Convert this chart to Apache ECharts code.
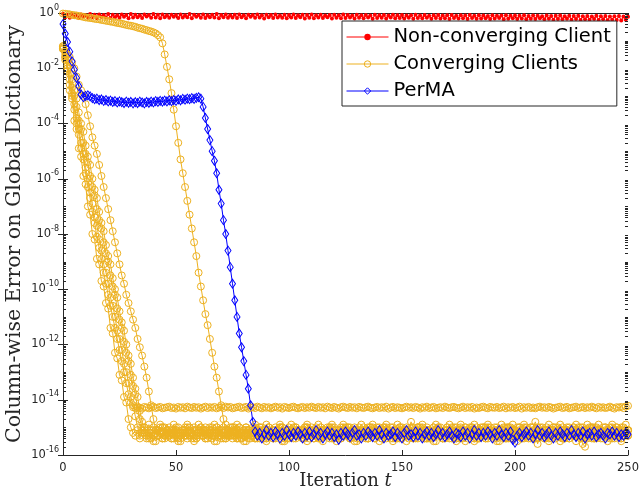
<!DOCTYPE html>
<html>
<head>
<meta charset="utf-8">
<script src="https://cdn.jsdelivr.net/npm/echarts/dist/echarts.min.js"></script>
<style>html,body{margin:0;padding:0;background:#fff}#chart{width:640px;height:499px}</style>
</head>
<body>
<div id="chart"></div>
<script>
// All values are log10 of the column-wise error; index = iteration t (0..250).
const seriesNames = ['Non-converging Client', 'Converging Clients', 'PerMA'];
const xTickValues = [0, 50, 100, 150, 200, 250];

const nonConvergingClientLog10 = [
-0.03,-0.15,-0.06,-0.17,-0.04,-0.14,-0.07,-0.18,-0.05,-0.13,-0.08,-0.17,-0.04,-0.15,-0.06,-0.19,-0.05,-0.14,-0.07,-0.16,-0.04,-0.18,-0.06,-0.15,-0.08,
-0.17,-0.05,-0.14,-0.07,-0.19,-0.04,-0.16,-0.06,-0.15,-0.08,-0.18,-0.05,-0.13,-0.07,-0.17,-0.04,-0.16,-0.06,-0.19,-0.05,-0.15,-0.08,-0.17,-0.06,-0.14,
-0.07,-0.18,-0.05,-0.16,-0.08,-0.15,-0.04,-0.19,-0.06,-0.14,-0.07,-0.17,-0.05,-0.18,-0.08,-0.15,-0.06,-0.16,-0.04,-0.19,-0.07,-0.15,-0.05,-0.17,-0.08,
-0.16,-0.06,-0.18,-0.05,-0.15,-0.08,-0.19,-0.06,-0.14,-0.07,-0.17,-0.05,-0.16,-0.08,-0.20,-0.06,-0.15,-0.07,-0.18,-0.05,-0.16,-0.09,-0.17,-0.06,-0.19,
-0.07,-0.16,-0.05,-0.18,-0.08,-0.15,-0.06,-0.20,-0.07,-0.17,-0.05,-0.19,-0.08,-0.16,-0.06,-0.18,-0.09,-0.15,-0.07,-0.20,-0.06,-0.17,-0.08,-0.19,-0.05,
-0.18,-0.07,-0.16,-0.09,-0.20,-0.06,-0.17,-0.08,-0.19,-0.07,-0.16,-0.09,-0.21,-0.06,-0.18,-0.08,-0.17,-0.07,-0.20,-0.09,-0.16,-0.06,-0.19,-0.08,-0.18,
-0.07,-0.20,-0.09,-0.17,-0.08,-0.21,-0.06,-0.18,-0.09,-0.19,-0.07,-0.17,-0.10,-0.21,-0.08,-0.18,-0.07,-0.20,-0.09,-0.19,-0.08,-0.22,-0.07,-0.18,-0.10,
-0.20,-0.08,-0.19,-0.09,-0.22,-0.07,-0.18,-0.10,-0.21,-0.08,-0.20,-0.09,-0.19,-0.11,-0.22,-0.08,-0.20,-0.10,-0.18,-0.09,-0.23,-0.08,-0.21,-0.10,-0.19,
-0.09,-0.22,-0.10,-0.20,-0.08,-0.23,-0.11,-0.21,-0.09,-0.22,-0.10,-0.19,-0.12,-0.23,-0.09,-0.21,-0.11,-0.24,-0.10,-0.22,-0.09,-0.23,-0.12,-0.21,-0.10,
-0.24,-0.11,-0.22,-0.10,-0.25,-0.12,-0.23,-0.11,-0.24,-0.13,-0.22,-0.10,-0.25,-0.12,-0.23,-0.11,-0.26,-0.13,-0.24,-0.12,-0.25,-0.11,-0.27,-0.13,-0.24,
-0.14
];

// slow converging client
const convergingClientSLog10 = [
-0.02,-0.03,-0.04,-0.05,-0.07,-0.08,-0.09,-0.11,-0.12,-0.14,
-0.16,-0.17,-0.18,-0.19,-0.21,-0.22,-0.23,-0.25,-0.26,-0.28,
-0.29,-0.31,-0.32,-0.34,-0.36,-0.37,-0.39,-0.41,-0.43,-0.45,
-0.46,-0.48,-0.50,-0.53,-0.55,-0.57,-0.60,-0.62,-0.65,-0.67,
-0.70,-0.74,-0.80,-0.88,-1.10,-1.50,-1.95,-2.40,-2.90,-3.50,
-4.10,-4.70,-5.30,-5.80,-6.30,-6.80,-7.30,-7.80,-8.30,-8.80,
-9.40,-9.90,-10.40,-10.90,-11.30,-11.80,-12.30,-12.80,-13.20,-13.70,
-14.20,-14.70,-15.10,
-15.2,-15.3,-15.1,-15.2,-15.4,-15.0,-15.2,-15.3,-15.1,-15.2,-15.4,-15.3,-15.1,-15.2,-15.0,-15.3,-15.2,-15.4,-15.1,-15.2,
-15.3,-15.1,-15.2,-15.0,-15.3,-15.4,-15.2,-15.1,-15.3,-15.2,-15.0,-15.2,-15.3,-15.1,-15.4,-15.2,-15.3,-15.1,-15.2,-15.0,
-15.2,-15.4,-15.1,-15.3,-15.2,-15.0,-15.3,-15.1,-15.2,-15.4,-15.3,-15.1,-15.2,-15.3,-15.0,-15.2,-15.1,-15.4,-15.2,-15.3,
-15.1,-15.2,-15.0,-15.3,-15.2,-15.4,-15.1,-15.2,-15.3,-15.1,-15.0,-15.2,-15.4,-15.3,-15.1,-15.2,-15.3,-15.0,-15.2,-15.1,
-15.3,-15.2,-15.4,-15.1,-15.2,-15.0,-15.3,-15.2,-15.1,-15.4,-15.2,-15.3,-15.1,-15.0,-15.2,-15.3,-15.4,-15.1,-15.2,-15.3,
-15.0,-15.2,-15.1,-15.3,-15.4,-15.2,-15.1,-15.0,-15.3,-15.2,-15.4,-15.1,-15.2,-15.3,-15.0,-15.2,-15.1,-15.3,-15.2,-15.4,
-15.1,-15.3,-15.2,-15.0,-15.2,-15.4,-15.1,-15.3,-15.2,-15.1,-15.3,-15.0,-15.2,-15.4,-15.3,-15.1,-15.2,-15.0,-15.3,-15.2,
-15.4,-15.1,-15.2,-15.3,-15.1,-15.0,-15.2,-15.3,-15.4,-15.2,-15.1,-15.3,-15.2,-15.0,-15.1,-15.3,-15.2,-15.4,-15.1,-15.2,
-15.3,-15.0,-15.2,-15.1,-15.3,-15.4,-15.2,-15.1,-15.3,-15.2,-15.0,-15.2,-15.3,-15.1,-15.4,-15.2,-15.3,-15.1
];

const convergingClientALog10 = [
-1.2,-1.6,-2.1,-2.8,-3.1,-3.9,-4.2,-4.9,-5.2,-5.9,-6.2,-7.0,-7.3,-8.0,-8.2,-8.9,-9.1,-9.7,-9.9,-10.5,-10.7,-11.4,-11.6,-12.3,-12.5,-13.1,-13.3,-13.9,-14.1,-14.7,-15.0,
-15.2,-15.3,-15.1,-15.4,-15.2,-15.0,-15.3,-15.2,-15.4,-15.1,-15.2,-15.3,-15.0,-15.2,-15.4,-15.3,-15.1,-15.2,-15.3,-15.1,
-15.4,-15.2,-15.1,-15.3,-15.2,-15.0,-15.2,-15.4,-15.3,-15.1,-15.2,-15.3,-15.1,-15.4,-15.2,-15.0,-15.3,-15.2,-15.1,-15.3,
-15.2,-15.4,-15.1,-15.2,-15.3,-15.0,-15.2,-15.1,-15.4,-15.3,-15.2,-15.1,-15.3,-15.2,-15.4,-15.1,-15.0,-15.2,-15.3,-15.2,
-15.1,-15.3,-15.4,-15.2,-15.1,-15.3,-15.0,-15.2,-15.3,-15.4,-15.1,-15.2,-15.3,-15.1,-15.2,-15.4,-15.3,-15.0,-15.2,-15.1,
-15.3,-15.2,-15.4,-15.1,-15.2,-15.3,-15.1,-15.0,-15.2,-15.4,-15.3,-15.2,-15.1,-15.3,-15.2,-15.0,-15.4,-15.2,-15.3,-15.1,
-15.2,-15.1,-15.3,-15.4,-15.2,-15.0,-15.3,-15.1,-15.2,-15.3,-15.4,-15.1,-15.2,-15.3,-15.0,-15.2,-15.1,-15.4,-15.3,-15.2,
-15.1,-15.2,-15.4,-15.3,-15.1,-15.2,-15.0,-15.3,-15.2,-15.1,-15.4,-15.2,-15.3,-15.1,-15.2,-15.0,-15.3,-15.4,-15.2,-15.1,
-15.3,-15.1,-15.2,-15.4,-15.2,-15.3,-15.1,-15.0,-15.2,-15.3,-15.1,-15.4,-15.2,-15.3,-15.1,-15.2,-15.4,-15.0,-15.2,-15.3,
-15.1,-15.2,-15.3,-15.1,-15.4,-15.2,-15.0,-15.3,-15.2,-15.1,-15.3,-15.2,-15.4,-15.1,-15.2,-15.3,-15.0,-15.2,-15.4,-15.1,
-15.2,-15.3,-15.1,-15.2,-15.4,-15.3,-15.1,-15.2,-15.0,-15.3,-15.2,-15.4,-15.1,-15.3,-15.2,-15.1,-15.3,-15.2,-15.4,-15.2,
-15.1,-15.3,-15.2,-15.0,-15.4,-15.2,-15.3,-15.1,-15.2,-15.3,-15.1,-15.2,-15.4,-15.3,-15.1,-15.2,-15.0,-15.3,-15.2,-15.1
];

// client settling on the upper floor (~10^-14.3)
const convergingClientBLog10 = [
-1.3,-1.7,-2.0,-2.6,-3.0,-3.5,-4.0,-4.4,-4.9,-5.3,-5.8,-6.3,-6.7,-7.2,-7.6,-8.1,-8.5,-8.9,-9.4,-9.8,-10.2,-10.6,-11.0,-11.4,-11.8,-12.2,-12.6,-13.0,-13.4,-13.8,-14.1,
-14.27,-14.30,-14.25,-14.29,-14.32,-14.26,-14.28,-14.31,-14.27,-14.25,-14.30,-14.28,-14.26,-14.31,-14.29,-14.27,-14.25,-14.30,-14.28,-14.32,
-14.26,-14.29,-14.27,-14.31,-14.25,-14.28,-14.30,-14.26,-14.29,-14.27,-14.32,-14.28,-14.25,-14.30,-14.27,-14.29,-14.26,-14.31,-14.28,-14.27,
-14.30,-14.25,-14.28,-14.26,-14.31,-14.29,-14.27,-14.25,-14.30,-14.28,-14.26,-14.32,-14.29,-14.27,-14.30,-14.25,-14.28,-14.31,-14.26,-14.29,
-14.27,-14.31,-14.28,-14.25,-14.29,-14.27,-14.32,-14.26,-14.28,-14.30,-14.27,-14.25,-14.29,-14.31,-14.28,-14.26,-14.30,-14.27,-14.29,-14.25,
-14.28,-14.30,-14.26,-14.29,-14.27,-14.31,-14.25,-14.28,-14.30,-14.26,-14.29,-14.32,-14.27,-14.25,-14.28,-14.30,-14.26,-14.29,-14.27,-14.31,
-14.26,-14.28,-14.30,-14.27,-14.25,-14.29,-14.31,-14.28,-14.26,-14.30,-14.27,-14.29,-14.25,-14.32,-14.28,-14.26,-14.30,-14.27,-14.29,-14.31,
-14.28,-14.25,-14.29,-14.27,-14.30,-14.26,-14.28,-14.32,-14.27,-14.29,-14.25,-14.30,-14.28,-14.26,-14.31,-14.29,-14.27,-14.30,-14.25,-14.28,
-14.30,-14.27,-14.26,-14.29,-14.31,-14.28,-14.25,-14.30,-14.27,-14.29,-14.26,-14.32,-14.28,-14.30,-14.27,-14.25,-14.29,-14.31,-14.26,-14.28,
-14.29,-14.26,-14.30,-14.28,-14.25,-14.31,-14.27,-14.29,-14.26,-14.30,-14.28,-14.25,-14.32,-14.27,-14.29,-14.26,-14.30,-14.28,-14.31,-14.27,
-14.25,-14.29,-14.27,-14.30,-14.26,-14.28,-14.32,-14.29,-14.27,-14.25,-14.30,-14.28,-14.26,-14.31,-14.29,-14.27,-14.25,-14.30,-14.28,-14.26,
-14.30,-14.27,-14.29,-14.25,-14.28,-14.31,-14.26,-14.29,-14.27,-14.30,-14.28,-14.25,-14.29,-14.32,-14.27,-14.28,-14.26,-14.30,-14.24,-14.22
];

const convergingClientCLog10 = [
-1.25,-1.6,-2.0,-2.4,-2.9,-3.3,-3.8,-4.2,-4.7,-5.1,-5.6,-6.0,-6.5,-6.9,-7.4,-7.7,-8.2,-8.6,-9.1,-9.4,-9.8,-10.3,-10.6,-11.0,-11.5,-11.8,-12.2,-12.7,-13.0,-13.4,-13.9,-14.2,-14.6,-15.0,
-15.3,-15.1,-15.2,-15.4,-15.3,-15.2,-15.5,-15.1,-15.3,-15.2,-15.4,-15.0,-15.2,-15.3,-15.1,-15.4,-15.2,-15.3,-15.5,-15.2,
-15.1,-15.3,-15.2,-15.4,-15.1,-15.3,-15.2,-15.0,-15.3,-15.4,-15.2,-15.1,-15.3,-15.5,-15.2,-15.3,-15.1,-15.2,-15.4,-15.3,
-15.2,-15.0,-15.3,-15.1,-15.4,-15.2,-15.3,-15.5,-15.1,-15.2,-15.3,-15.4,-15.2,-15.1,-15.3,-15.2,-15.4,-15.0,-15.3,-15.2,
-15.4,-15.1,-15.2,-15.3,-15.5,-15.2,-15.1,-15.3,-15.2,-15.4,-15.3,-15.1,-15.2,-15.0,-15.3,-15.4,-15.2,-15.3,-15.1,-15.2,
-15.3,-15.5,-15.2,-15.1,-15.3,-15.4,-15.2,-15.3,-15.1,-15.2,-15.0,-15.3,-15.2,-15.4,-15.1,-15.3,-15.5,-15.2,-15.3,-15.1,
-15.2,-15.4,-15.3,-15.1,-15.2,-15.3,-15.0,-15.4,-15.2,-15.3,-15.1,-15.2,-15.5,-15.3,-15.2,-15.1,-15.4,-15.2,-15.3,-15.1,
-15.3,-15.2,-15.4,-15.0,-15.2,-15.3,-15.1,-15.4,-15.3,-15.2,-15.5,-15.1,-15.3,-15.2,-15.4,-15.2,-15.1,-15.3,-15.0,-15.2,
-15.4,-15.3,-15.1,-15.2,-15.5,-15.3,-15.2,-15.1,-15.4,-15.2,-15.3,-15.0,-15.2,-15.4,-15.3,-15.1,-15.2,-15.3,-15.5,-15.2,
-15.1,-15.3,-15.2,-15.4,-15.2,-15.1,-15.3,-15.2,-15.0,-15.4,-15.3,-15.2,-15.1,-15.3,-15.4,-15.2,-15.6,-15.3,-15.1,-15.2,
-15.3,-15.1,-15.4,-15.2,-15.3,-15.2,-15.5,-15.1,-15.3,-15.2,-15.4,-15.3,-15.1,-15.2,-15.0,-15.3,-15.2,-15.4,-15.1,-15.3,
-15.2,-15.4,-15.3,-15.1,-15.2,-15.3,-15.0,-15.2,-15.4,-15.3,-15.1,-15.2,-15.3,-15.5,-15.2,-15.1,-15.3
];

const convergingClientDLog10 = [
-1.3,-1.5,-1.9,-2.2,-2.7,-3.0,-3.4,-3.9,-4.2,-4.7,-5.1,-5.4,-5.9,-6.3,-6.6,-7.1,-7.5,-7.8,-8.3,-8.7,-9.0,-9.5,-9.9,-10.2,-10.7,-11.1,-11.4,-11.9,-12.3,-12.6,-13.1,-13.5,-13.8,-14.3,-14.7,-15.0,
-15.0,-15.2,-14.9,-15.1,-15.0,-15.2,-15.1,-14.9,-15.0,-15.3,-15.1,-15.0,-15.2,-14.9,-15.1,-15.0,-15.2,-15.1,-15.0,-14.9,
-15.1,-15.2,-15.0,-15.1,-14.9,-15.0,-15.2,-15.1,-15.3,-15.0,-15.1,-14.9,-15.0,-15.2,-15.1,-15.0,-14.9,-15.1,-15.2,-15.0,
-15.1,-14.9,-15.0,-15.2,-15.1,-15.0,-15.1,-15.3,-15.0,-14.9,-15.1,-15.2,-15.0,-15.1,-14.9,-15.0,-15.2,-15.1,-15.0,-15.1,
-14.9,-15.0,-15.2,-15.1,-15.0,-14.9,-15.1,-15.0,-15.2,-15.3,-15.1,-15.0,-14.9,-15.1,-15.0,-15.2,-15.1,-14.9,-15.0,-15.1,
-15.2,-15.0,-15.1,-14.9,-15.0,-15.1,-15.2,-15.0,-14.9,-15.1,-15.0,-15.2,-15.1,-15.0,-15.3,-15.1,-14.9,-15.0,-15.2,-15.1,
-15.0,-14.9,-15.1,-15.0,-15.2,-15.1,-15.0,-14.9,-15.1,-15.2,-15.0,-15.1,-14.9,-15.0,-15.2,-15.1,-15.0,-15.1,-14.8,-15.0,
-15.1,-15.0,-15.2,-14.9,-15.1,-15.0,-15.1,-15.2,-15.0,-14.9,-15.1,-15.0,-15.2,-15.1,-15.0,-14.9,-15.1,-15.2,-15.0,-15.1,
-14.9,-15.1,-15.0,-15.2,-15.1,-15.0,-14.9,-15.0,-15.1,-15.3,-15.0,-15.1,-14.9,-15.0,-15.2,-15.1,-15.0,-15.1,-14.9,-15.0,
-15.2,-15.1,-15.0,-14.9,-15.1,-15.0,-15.2,-15.1,-14.9,-15.0,-15.1,-15.2,-15.0,-14.8,-15.1,-15.0,-15.2,-15.1,-15.0,-14.9,
-15.1,-15.0,-15.2,-15.1,-14.9,-15.0,-15.1,-15.0,-15.2,-15.1,-15.0,-14.9,-15.1,-15.2,-15.0,-15.1,-14.9,-15.0,-15.2,-15.1,
-15.0,-14.9,-15.1,-15.0,-15.2,-15.1,-15.0,-14.9,-15.1,-15.0,-15.2,-15.1,-15.0,-14.9,-15.1
];

const convergingClientELog10 = [
-1.2,-1.4,-1.7,-1.9,-2.4,-2.8,-3.1,-3.6,-4.0,-4.3,-4.8,-5.2,-5.5,-6.0,-6.4,-6.7,-7.2,-7.6,-7.9,-8.4,-8.8,-9.1,-9.6,-10.0,-10.3,-10.8,-11.2,-11.5,-12.0,-12.4,-12.7,-13.2,-13.6,-13.9,-14.4,-14.8,-15.1,
-15.3,-15.4,-15.2,-15.3,-15.5,-15.3,-15.2,-15.4,-15.3,-15.1,-15.3,-15.4,-15.2,-15.3,-15.5,-15.4,-15.2,-15.3,-15.4,-15.2,
-15.3,-15.5,-15.4,-15.2,-15.3,-15.1,-15.4,-15.3,-15.2,-15.4,-15.3,-15.5,-15.2,-15.3,-15.4,-15.3,-15.1,-15.3,-15.4,-15.2,
-15.4,-15.3,-15.2,-15.5,-15.3,-15.4,-15.2,-15.3,-15.1,-15.4,-15.3,-15.2,-15.4,-15.5,-15.3,-15.2,-15.4,-15.3,-15.2,-15.3,
-15.5,-15.3,-15.4,-15.2,-15.3,-15.4,-15.1,-15.3,-15.2,-15.4,-15.3,-15.5,-15.3,-15.2,-15.4,-15.3,-15.2,-15.4,-15.3,-15.1,
-15.3,-15.4,-15.2,-15.3,-15.5,-15.2,-15.4,-15.3,-15.2,-15.3,-15.4,-15.2,-15.5,-15.3,-15.4,-15.2,-15.3,-15.1,-15.4,-15.3,
-15.2,-15.4,-15.3,-15.5,-15.2,-15.3,-15.4,-15.3,-15.2,-15.4,-15.1,-15.3,-15.4,-15.2,-15.3,-15.5,-15.3,-15.2,-15.4,-15.3,
-15.4,-15.2,-15.3,-15.4,-15.3,-15.1,-15.4,-15.3,-15.5,-15.2,-15.3,-15.4,-15.2,-15.3,-15.4,-15.3,-15.2,-15.5,-15.3,-15.4,
-15.2,-15.3,-15.4,-15.2,-15.3,-15.5,-15.3,-15.4,-15.2,-15.3,-15.1,-15.4,-15.3,-15.2,-15.4,-15.3,-15.5,-15.2,-15.3,-15.4,
-15.3,-15.2,-15.4,-15.3,-15.5,-15.3,-15.2,-15.4,-15.3,-15.2,-15.4,-15.3,-15.2,-15.4,-15.3,-15.2,-15.4,-15.3,-15.5,-15.2,
-15.3,-15.4,-15.3,-15.2,-15.4,-15.1,-15.3,-15.4,-15.2,-15.3,-15.5,-15.3,-15.4,-15.6,-15.7,-15.4,-15.3,-15.2,-15.3,-15.4,
-15.3,-15.2,-15.4,-15.3,-15.5,-15.3,-15.2,-15.4,-15.3,-15.2,-15.4,-15.3,-15.2,-15.3
];

const convergingClientFLog10 = [
-1.3,-1.4,-1.5,-1.6,-1.8,-2.0,-2.3,-2.6,-2.8,-3.0,-3.3,-3.7,-4.1,-4.5,-4.8,-5.1,-5.5,-5.9,-6.3,-6.7,-7.1,-7.5,-7.9,-8.3,-8.7,-9.1,-9.5,-9.8,-10.2,-10.5,-10.8,-11.1,-11.4,-11.8,-12.1,-12.4,-12.8,-13.2,-13.7,-14.2,-14.7,-15.1,
-15.1,-15.2,-15.0,-15.3,-15.1,-15.2,-15.4,-15.1,-15.0,-15.2,-15.3,-15.1,-15.2,-15.0,-15.3,-15.2,-15.1,-15.4,-15.2,-15.1,
-15.3,-15.0,-15.2,-15.1,-15.3,-15.2,-15.0,-15.1,-15.4,-15.2,-15.1,-15.3,-15.0,-15.2,-15.1,-15.3,-15.2,-15.4,-15.1,-15.0,
-15.2,-15.3,-15.1,-15.0,-15.2,-15.4,-15.1,-15.2,-15.3,-15.0,-15.2,-15.1,-15.3,-15.2,-15.0,-15.1,-15.4,-15.2,-15.1,-15.3,
-15.0,-15.2,-15.1,-15.3,-15.2,-15.1,-15.0,-15.3,-15.2,-15.4,-15.1,-15.2,-15.0,-15.1,-15.3,-15.2,-15.1,-15.0,-15.2,-15.3,
-15.1,-15.4,-15.2,-15.0,-15.1,-15.3,-15.2,-15.1,-15.2,-15.0,-15.3,-15.1,-15.2,-15.4,-15.1,-15.0,-15.2,-15.3,-15.1,-15.2,
-15.0,-15.1,-15.3,-15.2,-15.1,-15.4,-15.2,-15.0,-15.1,-15.3,-15.2,-15.1,-15.0,-15.2,-15.3,-15.1,-15.2,-15.0,-15.4,-15.1,
-15.2,-15.3,-15.0,-15.1,-15.2,-15.1,-15.3,-15.2,-15.0,-15.1,-15.4,-15.2,-15.1,-15.3,-15.0,-15.2,-15.1,-15.2,-15.3,-15.0,
-15.1,-15.2,-15.4,-15.1,-15.0,-15.2,-15.3,-15.1,-15.2,-15.0,-15.1,-15.3,-15.2,-15.1,-15.4,-15.0,-15.2,-15.1,-15.3,-15.2,
-15.0,-15.1,-15.2,-15.3,-15.1,-15.0,-15.2,-15.1,-15.4,-15.2,-15.0,-15.3,-15.1,-15.2,-15.1,-15.0,-15.3,-15.2,-15.1,-15.2,
-15.4,-15.1,-15.0,-15.2,-15.3,-15.1,-15.2,-15.0,-15.1,-15.3,-15.2,-15.1,-15.4,-15.0,-15.2,-15.1,-15.3,-15.2,-15.0,-15.1,
-15.2,-15.3,-15.1,-15.0,-15.2,-15.1,-15.3,-15.2,-15.1
];

const perMALog10 = [
-0.40,-0.75,-1.05,-1.40,-1.75,-2.05,-2.35,-2.65,-2.95,
-3.05,-3.00,-2.98,-3.02,-3.08,-3.12,-3.10,-3.15,-3.13,-3.18,
-3.15,-3.20,-3.17,-3.22,-3.19,-3.24,-3.20,-3.23,-3.26,-3.21,
-3.25,-3.22,-3.27,-3.23,-3.26,-3.21,-3.24,-3.27,-3.22,-3.25,
-3.21,-3.24,-3.19,-3.22,-3.18,-3.21,-3.17,-3.20,-3.16,-3.19,
-3.15,-3.18,-3.13,-3.16,-3.11,-3.14,-3.10,-3.12,-3.08,-3.11,
-3.07,-3.05,-3.10,
-3.40,-3.80,-4.20,-4.60,-5.00,-5.35,-5.80,-6.40,-6.90,-7.50,-8.00,-8.60,-9.20,-9.80,-10.40,-11.00,-11.60,-12.10,-12.60,-13.10,-13.60,-14.20,-14.80,
-15.15,-15.30,-15.20,-15.40,-15.25,-15.10,-15.30,-15.20,-15.35,-15.15,-15.25,-15.40,-15.20,-15.30,-15.10,-15.25,-15.35,-15.20,-15.30,-15.15,
-15.25,-15.40,-15.20,-15.30,-15.15,-15.35,-15.25,-15.10,-15.30,-15.20,-15.40,-15.25,-15.15,-15.30,-15.20,-15.35,-15.25,-15.45,-15.20,-15.30,
-15.15,-15.25,-15.35,-15.20,-15.10,-15.30,-15.25,-15.40,-15.20,-15.30,-15.15,-15.25,-15.35,-15.20,-15.30,-15.10,-15.25,-15.40,-15.20,-15.30,
-15.25,-15.15,-15.35,-15.20,-15.30,-15.40,-15.20,-15.10,-15.30,-15.25,-15.35,-15.15,-15.30,-15.20,-15.40,-15.25,-15.15,-15.30,-15.20,-15.35,
-15.25,-15.10,-15.30,-15.20,-15.35,-15.25,-15.15,-15.30,-15.40,-15.20,-15.25,-15.35,-15.15,-15.30,-15.20,-15.40,-15.25,-15.10,-15.30,-15.20,
-15.35,-15.20,-15.30,-15.15,-15.25,-15.40,-15.20,-15.30,-15.10,-15.25,-15.35,-15.20,-15.30,-15.15,-15.45,-15.55,-15.30,-15.20,-15.35,-15.25,
-15.15,-15.30,-15.20,-15.40,-15.25,-15.10,-15.30,-15.20,-15.35,-15.25,-15.15,-15.30,-15.40,-15.20,-15.30,-15.15,-15.25,-15.35,-15.20,-15.30,
-15.10,-15.25,-15.35,-15.20,-15.30,-15.15,-15.40,-15.25,-15.20,-15.30,-15.15,-15.35,-15.25,-15.20,-15.30,-15.40,-15.20,-15.25,-15.15,-15.30,
-15.20,-15.35,-15.25,-15.30,-15.20,-15.25
];

const convergingClientsLog10 = [
  convergingClientSLog10, convergingClientALog10, convergingClientBLog10,
  convergingClientCLog10, convergingClientDLog10, convergingClientELog10, convergingClientFLog10
];

const allArrays = { nonConvergingClientLog10, perMALog10, convergingClientSLog10, convergingClientALog10,
  convergingClientBLog10, convergingClientCLog10, convergingClientDLog10, convergingClientELog10, convergingClientFLog10 };
for (const k in allArrays) { if (allArrays[k].length !== 251) throw new Error(k + ' length ' + allArrays[k].length); }

const RED = '#FF0000', YELLOW = '#EDB120', BLUE = '#0000FF', AXIS = '#262626';
const toPoints = arr => arr.map((e, t) => [t, Math.pow(10, e)]);

// minor tick positions on the log axis (k * 10^n), axis furniture only
const minorTickValues = [];
for (let n = -16; n < 0; n++) {
  for (let k = 1; k <= 9; k++) {
    if (k === 1 && n % 2 === 0) continue;
    minorTickValues.push(k * Math.pow(10, n));
  }
}

const chart = echarts.init(document.getElementById('chart'), null, { renderer: 'canvas' });

const baseLine = {
  type: 'line', showAllSymbol: true, animation: false, silent: true,
  emphasis: { disabled: true }, xAxisIndex: 0, yAxisIndex: 0
};

const series = [];
series.push(Object.assign({}, baseLine, {
  name: seriesNames[0], data: toPoints(nonConvergingClientLog10),
  symbol: 'circle', symbolSize: 4,
  lineStyle: { color: RED, width: 1 }, itemStyle: { color: RED }
}));
convergingClientsLog10.forEach(arr => {
  series.push(Object.assign({}, baseLine, {
    name: seriesNames[1], data: toPoints(arr),
    symbol: 'circle', symbolSize: 7,
    lineStyle: { color: YELLOW, width: 1 },
    itemStyle: { color: 'rgba(0,0,0,0)', borderColor: YELLOW, borderWidth: 1 }
  }));
});
series.push(Object.assign({}, baseLine, {
  name: seriesNames[2], data: toPoints(perMALog10),
  symbol: 'diamond', symbolSize: [6, 9],
  lineStyle: { color: BLUE, width: 1 },
  itemStyle: { color: 'rgba(0,0,0,0)', borderColor: BLUE, borderWidth: 1 }
}));

const tickFont = 'DejaVu Sans';
const xAxisCommon = {
  type: 'value', min: 0, max: 250, interval: 50,
  splitLine: { show: false },
  axisLine: { show: true, lineStyle: { color: AXIS, width: 1 } },
  axisTick: { show: true, inside: true, length: 5, lineStyle: { color: AXIS } }
};
const yAxisCommon = {
  type: 'log', logBase: 10, min: 1e-16, max: 1, interval: 2,
  splitLine: { show: false },
  axisLine: { show: true, lineStyle: { color: AXIS, width: 1 } },
  axisTick: { show: true, inside: true, length: 5, lineStyle: { color: AXIS } },
  minorTick: { show: false }
};

chart.setOption({
  backgroundColor: '#fff',
  animation: false,
  grid: { left: 63, right: 12, top: 13, bottom: 44, containLabel: false, outerBoundsMode: 'none' },
  xAxis: [
    Object.assign({}, xAxisCommon, {
      position: 'bottom',
      axisLabel: { show: true, margin: 7, fontFamily: tickFont, fontSize: 11.5, color: AXIS,
        customValues: xTickValues },
      name: 'Iteration {it|t}', nameLocation: 'middle', nameGap: 17, nameMoveOverlap: false,
      nameTextStyle: { fontFamily: 'DejaVu Serif', fontSize: 18, color: AXIS,
        rich: { it: { fontFamily: 'DejaVu Serif', fontStyle: 'italic', fontSize: 18, color: AXIS } } }
    }),
    Object.assign({}, xAxisCommon, { position: 'top', axisLabel: { show: false } })
  ],
  yAxis: [
    Object.assign({}, yAxisCommon, {
      position: 'left',
      axisLabel: {
        show: true, margin: 4,
        formatter: function (v) { return '{b|10}{s|' + Math.round(Math.log10(v)) + '}'; },
        rich: {
          b: { fontFamily: tickFont, fontSize: 11.5, color: AXIS },
          s: { fontFamily: tickFont, fontSize: 8, color: AXIS, padding: [0, 0, 11, 0] }
        }
      },
      name: 'Column-wise Error on Global Dictionary', nameLocation: 'middle', nameGap: 38, nameMoveOverlap: false,
      nameTextStyle: { fontFamily: 'DejaVu Serif', fontSize: 20.5, color: AXIS }
    }),
    Object.assign({}, yAxisCommon, { position: 'right', axisLabel: { show: false } })
  ],
  legend: {
    orient: 'vertical', left: 342, top: 21, padding: [6, 6, 5, 4], itemGap: 7,
    itemWidth: 42, itemHeight: 8, selectedMode: false,
    backgroundColor: '#fff', borderColor: AXIS, borderWidth: 1, borderRadius: 0,
    textStyle: { fontFamily: 'DejaVu Sans', fontSize: 19.5, lineHeight: 20, color: '#000' },
    data: [
      { name: seriesNames[0], itemStyle: { color: RED, borderWidth: 0 }, lineStyle: { color: RED, width: 1 } },
      { name: seriesNames[1], itemStyle: { color: 'rgba(0,0,0,0)', borderColor: YELLOW, borderWidth: 1 }, lineStyle: { color: YELLOW, width: 1 } },
      { name: seriesNames[2], itemStyle: { color: 'rgba(0,0,0,0)', borderColor: BLUE, borderWidth: 1 }, lineStyle: { color: BLUE, width: 1 } }
    ]
  },
  series: series
});

// log-spaced minor ticks (inside, left and right), positioned through the axis scales
const xLeft = chart.convertToPixel({ xAxisIndex: 0 }, 0);
const xRight = chart.convertToPixel({ xAxisIndex: 0 }, 250);
const minorTickGraphics = [];
minorTickValues.forEach(v => {
  const y = Math.round(chart.convertToPixel({ yAxisIndex: 0 }, v)) + 0.5;
  minorTickGraphics.push({ type: 'line', silent: true, z: 5, shape: { x1: xLeft, y1: y, x2: xLeft + 3, y2: y }, style: { stroke: AXIS, lineWidth: 1 } });
  minorTickGraphics.push({ type: 'line', silent: true, z: 5, shape: { x1: xRight, y1: y, x2: xRight - 3, y2: y }, style: { stroke: AXIS, lineWidth: 1 } });
});
chart.setOption({ graphic: { elements: minorTickGraphics } });
</script>
</body>
</html>
